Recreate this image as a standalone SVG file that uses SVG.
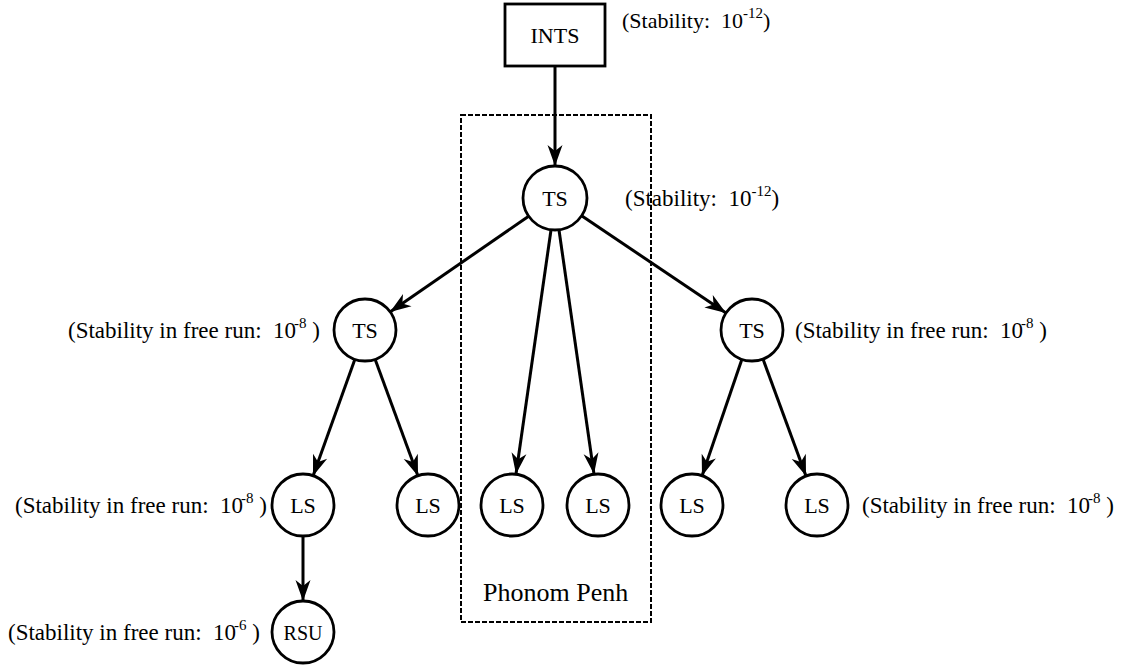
<svg xmlns="http://www.w3.org/2000/svg" width="1128" height="667" viewBox="0 0 1128 667">
<style>
  .node { fill: #fff; stroke: #000; stroke-width: 2.8; }
  .lbl { font-family: "Liberation Serif", "Times New Roman", serif; font-size: 22px; fill: #000; text-anchor: middle; }
  .note { font-family: "Liberation Serif", "Times New Roman", serif; font-size: 23px; fill: #000; }
  .sup { font-size: 15px; }
  .edge { stroke: #000; stroke-width: 3; fill: none; marker-end: url(#arr); }
  .region { fill: none; stroke: #000; stroke-width: 2; stroke-dasharray: 5 2; }
</style>
<defs>
  <marker id="arr" markerUnits="userSpaceOnUse" markerWidth="24" markerHeight="18" viewBox="-22 -9 24 18" refX="0" refY="0" orient="auto">
    <path d="M0,0 L-21,-7.5 L-15,0 L-21,7.5 Z" fill="#000"/>
  </marker>
</defs>
<rect width="1128" height="667" fill="#fff"/>

<g id="phnom-penh-region">
  <rect class="region" x="461" y="115" width="190" height="507"/>
  <text class="note" x="483" y="601" style="font-size:26px">Phonom Penh</text>
</g>

<g id="connectors">
  <line class="edge" x1="555" y1="66" x2="555" y2="166"/>
  <line class="edge" x1="529" y1="216" x2="390" y2="312"/>
  <line class="edge" x1="582" y1="216" x2="726" y2="313"/>
  <line class="edge" x1="551" y1="230" x2="516" y2="474"/>
  <line class="edge" x1="559" y1="230" x2="594" y2="474"/>
  <line class="edge" x1="355" y1="359" x2="313" y2="476"/>
  <line class="edge" x1="375" y1="359" x2="418" y2="476"/>
  <line class="edge" x1="742" y1="359" x2="702" y2="476"/>
  <line class="edge" x1="763" y1="359" x2="806" y2="476"/>
  <line class="edge" x1="303" y1="536" x2="303" y2="601"/>
</g>

<g id="ints">
  <rect class="node" x="505" y="4" width="100" height="62"/>
  <text class="lbl" x="555" y="43">INTS</text>
  <text class="note" x="622" y="28" style="font-size:22px" xml:space="preserve">(Stability:  10<tspan class="sup" dy="-10">-12</tspan><tspan dy="10">)</tspan></text>
</g>

<g id="ts-top">
  <circle class="node" cx="555" cy="198" r="32"/>
  <text class="lbl" x="555" y="206">TS</text>
  <text class="note" x="625" y="206" xml:space="preserve">(Stability:  10<tspan class="sup" dy="-10">-12</tspan><tspan dy="10">)</tspan></text>
</g>

<g id="ts-left">
  <circle class="node" cx="365" cy="330" r="31"/>
  <text class="lbl" x="365" y="338">TS</text>
  <text class="note" x="68" y="338" xml:space="preserve">(Stability in free run:  10<tspan class="sup" dx="-2" dy="-10">-8</tspan><tspan dy="10"> )</tspan></text>
</g>

<g id="ts-right">
  <circle class="node" cx="752" cy="330" r="31"/>
  <text class="lbl" x="752" y="338">TS</text>
  <text class="note" x="795" y="338" xml:space="preserve">(Stability in free run:  10<tspan class="sup" dx="-2" dy="-10">-8</tspan><tspan dy="10"> )</tspan></text>
</g>

<g id="ls-1">
  <circle class="node" cx="303" cy="505" r="31"/>
  <text class="lbl" x="303" y="513">LS</text>
  <text class="note" x="15" y="513" xml:space="preserve">(Stability in free run:  10<tspan class="sup" dx="-2" dy="-10">-8</tspan><tspan dy="10"> )</tspan></text>
</g>
<g id="ls-2">
  <circle class="node" cx="428" cy="505" r="31"/>
  <text class="lbl" x="428" y="513">LS</text>
</g>
<g id="ls-3">
  <circle class="node" cx="512" cy="505" r="31"/>
  <text class="lbl" x="512" y="513">LS</text>
</g>
<g id="ls-4">
  <circle class="node" cx="598" cy="505" r="31"/>
  <text class="lbl" x="598" y="513">LS</text>
</g>
<g id="ls-5">
  <circle class="node" cx="692" cy="505" r="31"/>
  <text class="lbl" x="692" y="513">LS</text>
</g>
<g id="ls-6">
  <circle class="node" cx="817" cy="505" r="31"/>
  <text class="lbl" x="817" y="513">LS</text>
  <text class="note" x="862" y="513" xml:space="preserve">(Stability in free run:  10<tspan class="sup" dx="-2" dy="-10">-8</tspan><tspan dy="10"> )</tspan></text>
</g>

<g id="rsu">
  <circle class="node" cx="303" cy="632" r="31"/>
  <text class="lbl" x="303" y="640" style="font-size:20px">RSU</text>
  <text class="note" x="8" y="640" xml:space="preserve">(Stability in free run:  10<tspan class="sup" dx="-2" dy="-10">-6</tspan><tspan dy="10"> )</tspan></text>
</g>
</svg>
